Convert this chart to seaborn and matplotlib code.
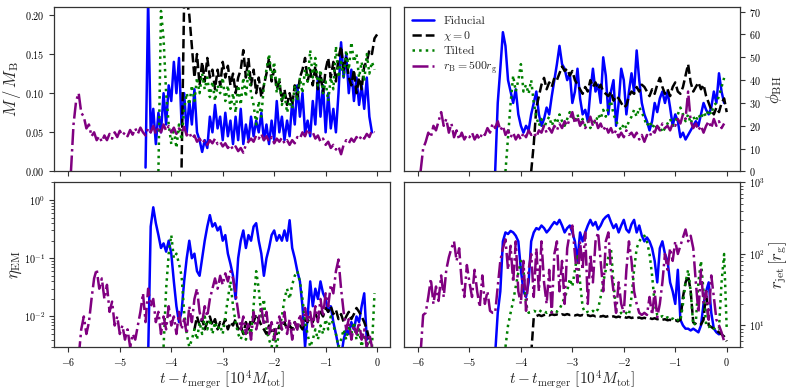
import numpy as np
import pandas as pd
import matplotlib
matplotlib.use("Agg")
import matplotlib.pyplot as plt
from matplotlib.ticker import MultipleLocator
import seaborn as sns

# ---------------- data (sampled every 0.05 in t - t_merger) ----------------
labels = ["Fiducial", r"$\chi=0$", "Tilted", r"$r_{\rm B}=500r_{\rm g}$"]
colors = ["blue", "black", "green", "purple"]
styles = ["-", "--", ":", "-."]

# Mdot / Mdot_B
mdot_fid_span = (-4.50, -0.10)
mdot_fid = [0.005,0.22,0.05,0.08,0.035,0.075,0.05,0.1,0.06,0.11,
            0.09,0.14,0.1,0.145,0.06,0.1,0.05,0.09,0.06,0.105,
            0.05,0.04,0.025,0.04,0.03,0.07,0.05,0.085,0.055,0.07,
            0.04,0.075,0.045,0.065,0.035,0.07,0.04,0.08,0.035,0.06,
            0.04,0.07,0.045,0.065,0.05,0.075,0.04,0.06,0.035,0.065,
            0.04,0.09,0.05,0.07,0.04,0.065,0.045,0.09,0.06,0.11,
            0.07,0.1,0.05,0.065,0.045,0.09,0.06,0.12,0.07,0.11,
            0.05,0.1,0.055,0.08,0.05,0.1,0.165,0.12,0.15,0.1,
            0.13,0.09,0.12,0.085,0.11,0.08,0.12,0.07,0.05]
mdot_chi0_span = (-3.80, 0.00)
mdot_chi0 = [0.005,0.22,0.22,0.2,0.16,0.12,0.15,0.11,0.14,0.115,
             0.145,0.12,0.13,0.105,0.13,0.11,0.14,0.12,0.135,0.11,
             0.125,0.1,0.12,0.13,0.155,0.12,0.145,0.11,0.13,0.1,
             0.12,0.095,0.11,0.125,0.145,0.115,0.13,0.105,0.115,0.09,
             0.105,0.085,0.1,0.085,0.11,0.095,0.12,0.13,0.145,0.115,
             0.13,0.11,0.135,0.105,0.125,0.1,0.13,0.145,0.12,0.14,
             0.115,0.145,0.16,0.13,0.145,0.12,0.11,0.13,0.1,0.12,
             0.105,0.135,0.14,0.155,0.15,0.17,0.175]
mdot_tilt_span = (-4.25, -0.05)
mdot_tilt = [0.0,0.205,0.17,0.1,0.06,0.035,0.055,0.03,0.06,0.04,
             0.08,0.1,0.085,0.11,0.09,0.12,0.1,0.125,0.105,0.12,
             0.095,0.115,0.09,0.11,0.1,0.12,0.09,0.11,0.08,0.1,
             0.075,0.11,0.085,0.12,0.095,0.13,0.1,0.085,0.06,0.09,
             0.07,0.11,0.13,0.15,0.12,0.14,0.1,0.12,0.085,0.1,
             0.075,0.09,0.08,0.11,0.09,0.12,0.1,0.13,0.115,0.155,
             0.12,0.145,0.11,0.13,0.1,0.115,0.09,0.12,0.105,0.16,
             0.12,0.14,0.12,0.155,0.13,0.165,0.14,0.15,0.12,0.14,
             0.115,0.15,0.125,0.14,0.13]
mdot_rb_span = (-5.95, -0.05)
mdot_rb = [0.0,0.06,0.09,0.10,0.075,0.07,0.055,0.06,0.045,0.05,
           0.04,0.045,0.038,0.046,0.04,0.048,0.042,0.05,0.044,0.052,
           0.046,0.05,0.045,0.053,0.047,0.055,0.048,0.056,0.05,0.046,
           0.055,0.05,0.058,0.048,0.056,0.05,0.06,0.052,0.058,0.05,
           0.056,0.048,0.055,0.05,0.057,0.046,0.05,0.042,0.046,0.038,
           0.042,0.036,0.04,0.034,0.04,0.036,0.042,0.035,0.038,0.032,
           0.036,0.03,0.034,0.028,0.032,0.026,0.03,0.024,0.034,0.038,
           0.042,0.038,0.046,0.042,0.048,0.04,0.045,0.038,0.044,0.036,
           0.042,0.038,0.043,0.036,0.04,0.034,0.04,0.036,0.044,0.042,
           0.05,0.045,0.054,0.048,0.05,0.042,0.046,0.038,0.042,0.034,
           0.038,0.03,0.034,0.028,0.032,0.022,0.034,0.04,0.036,0.042,
           0.038,0.044,0.04,0.046,0.042,0.048,0.044,0.052,0.05]

# phi_BH
phi_fid_span = (-4.50, -0.05)
phi_fid = [0,30,45,61,55,40,35,30,36,25,
           20,17,20,18,25,30,35,25,20,23,
           28,25,33,40,47,55,47,45,40,43,
           30,35,45,32,25,27,22,35,45,35,
           38,30,50,42,25,35,40,20,30,45,
           40,25,35,43,35,53,40,30,25,22,
           18,22,30,26,32,35,30,35,28,20,
           25,22,15,17,14,16,18,20,22,20,
           25,30,27,25,28,35,30,43,35,30]
phi_chi0_span = (-3.80, 0.00)
phi_chi0 = [0,12,28,33,38,41,36,39,37,41,
            40,43,46,44,45,42,44,40,38,36,
            34,37,35,40,37,39,36,38,35,34,
            33,35,31,33,32,30,28,29,33,35,
            34,37,35,38,37,35,33,36,34,38,
            41,37,34,36,33,37,39,35,34,37,
            42,47,39,35,37,39,36,38,33,30,
            27,25,28,26,30,32,26]
phi_tilt_span = (-4.30, -0.05)
phi_tilt = [0,15,30,42,35,40,47,35,38,34,
            40,30,24,20,23,19,22,24,20,23,
            21,25,22,20,23,26,24,22,25,21,
            23,20,22,19,23,21,25,23,27,24,
            28,31,25,22,20,18,21,19,22,24,
            27,24,28,26,23,20,22,19,21,18,
            20,17,19,21,23,20,22,25,28,25,
            22,25,21,24,22,25,23,26,24,27,
            25,29,30,33,37,41]
phi_rb_span = (-5.95, -0.05)
phi_rb = [0,10,13,17,15,20,18,22,26,20,
          23,17,21,15,18,14,17,14,16,15,
          17,14,16,14,17,16,19,17,21,19,
          22,18,20,16,18,15,17,14,16,14,
          17,15,18,16,17,15,18,17,20,17,
          19,17,20,18,21,19,22,20,23,26,
          21,24,20,22,19,21,24,20,23,19,
          21,18,20,17,19,16,18,15,17,15,
          18,16,17,15,17,14,16,13,16,15,
          18,17,20,18,21,19,20,18,21,20,
          23,21,25,23,35,22,19,21,18,20,
          17,20,22,19,23,20,22,19,21]

# eta_EM
eta_fid_span = (-4.45, -0.20)
eta_fid = [0.002,0.35,0.75,0.4,0.25,0.15,0.18,0.13,0.2,0.12,
           0.04,0.015,0.008,0.012,0.04,0.1,0.2,0.1,0.12,0.06,
           0.05,0.1,0.2,0.35,0.55,0.35,0.4,0.3,0.35,0.2,
           0.25,0.12,0.08,0.05,0.02,0.1,0.2,0.3,0.15,0.25,
           0.2,0.35,0.4,0.2,0.12,0.05,0.1,0.15,0.25,0.3,
           0.2,0.25,0.2,0.3,0.2,0.45,0.15,0.1,0.06,0.04,
           0.015,0.003,0.01,0.04,0.015,0.03,0.02,0.04,0.025,0.02,
           0.012,0.015,0.008,0.005,0.003,0.002,0.004,0.006,0.005,0.008,
           0.006,0.01,0.008,0.015,0.025,0.004]
eta_chi0_span = (-3.55, -0.15)
eta_chi0 = [0.006,0.01,0.007,0.009,0.006,0.008,0.01,0.007,0.009,0.006,
            0.008,0.007,0.009,0.006,0.008,0.007,0.009,0.006,0.007,0.005,
            0.008,0.006,0.009,0.008,0.011,0.009,0.007,0.006,0.005,0.007,
            0.005,0.006,0.005,0.007,0.006,0.008,0.006,0.007,0.006,0.008,
            0.006,0.007,0.006,0.009,0.008,0.01,0.008,0.011,0.009,0.012,
            0.01,0.014,0.012,0.015,0.011,0.013,0.009,0.011,0.008,0.01,
            0.012,0.009,0.011,0.014,0.012,0.01,0.008,0.006,0.004]
eta_tilt_span = (-4.15, -0.05)
eta_tilt = [0.003,0.03,0.12,0.25,0.1,0.12,0.08,0.05,0.012,0.005,
            0.003,0.004,0.006,0.004,0.008,0.005,0.01,0.006,0.009,0.005,
            0.008,0.006,0.007,0.005,0.01,0.02,0.04,0.015,0.008,0.005,
            0.004,0.006,0.004,0.007,0.005,0.015,0.06,0.03,0.01,0.02,
            0.006,0.004,0.003,0.005,0.003,0.006,0.01,0.02,0.03,0.02,
            0.035,0.05,0.06,0.04,0.02,0.008,0.005,0.003,0.004,0.006,
            0.004,0.007,0.005,0.009,0.006,0.01,0.007,0.005,0.003,0.004,
            0.006,0.004,0.007,0.005,0.008,0.004,0.006,0.003,0.005,0.003,
            0.004,0.003,0.025]
eta_rb_span = (-5.80, -0.10)
eta_rb = [0.002,0.006,0.01,0.005,0.008,0.02,0.045,0.065,0.03,0.045,
          0.02,0.035,0.012,0.018,0.007,0.01,0.005,0.007,0.004,0.006,
          0.003,0.005,0.004,0.007,0.012,0.025,0.008,0.03,0.015,0.02,
          0.008,0.012,0.005,0.01,0.006,0.015,0.007,0.01,0.005,0.012,
          0.006,0.009,0.005,0.015,0.008,0.02,0.03,0.012,0.008,0.015,
          0.01,0.02,0.03,0.045,0.03,0.05,0.035,0.055,0.04,0.06,
          0.045,0.025,0.012,0.006,0.01,0.005,0.008,0.004,0.012,0.006,
          0.009,0.015,0.007,0.012,0.005,0.008,0.004,0.007,0.01,0.006,
          0.012,0.005,0.009,0.004,0.008,0.006,0.011,0.007,0.014,0.008,
          0.012,0.006,0.015,0.008,0.02,0.01,0.025,0.015,0.035,0.025,
          0.06,0.095,0.03,0.012,0.006,0.009,0.004,0.007,0.005,0.008,
          0.004,0.006,0.003,0.005,0.003]

# r_jet
rjet_fid_span = (-4.50, -0.15)
rjet_fid = [4,15,30,150,200,190,210,200,180,150,
            60,30,25,40,150,200,230,220,250,230,
            200,220,250,280,260,300,250,200,230,250,
            200,150,80,200,150,200,250,300,250,280,
            220,250,300,330,350,280,230,260,200,250,
            300,220,200,260,300,200,250,180,150,170,
            150,120,80,40,120,150,100,80,40,30,
            20,60,12,10,9,9,8.5,9,8.5,8,
            10,20,30,40,15,9,8,7.5]
rjet_chi0_span = (-3.80, 0.00)
rjet_chi0 = [4,13,13.5,14,13.5,14,14.2,13.8,14.3,14,
             14.2,13.8,14.3,14,14.4,14,14.2,13.8,14.1,13.7,
             14,13.6,13.9,13.5,13.8,13.4,13.7,13.3,13.6,13.2,
             13.5,13.1,13.4,13.0,13.3,12.9,13.2,12.8,13.1,12.7,
             13.0,12.6,12.9,12.5,12.8,12.4,12.7,12.3,12.6,12.2,
             12.4,12.0,12.2,11.8,12.0,11.6,11.8,11.4,12,25,
             40,50,30,11,10.5,10,10.3,12,30,10,
             9.5,9,8.5,8,7.5,7,6]
rjet_tilt_span = (-4.30, 0.00)
rjet_tilt = [5,10,15,22,35,55,80,60,20,15,
             15.5,16,15.5,16.5,15.5,16,15,16,15.5,16.5,
             15.5,17,20,25,30,45,35,60,100,40,
             18,15,15.5,15,16,15,17,25,40,60,
             90,120,40,16,14.5,15,14,15,14,25,
             60,120,150,170,180,150,100,50,20,14,
             13,13.5,12.5,13,12,12.5,11.5,12,11.5,20,
             40,60,30,10,11,40,80,30,10,9.5,
             10,9,9.5,9,40,100,9]
rjet_rb_span = (-5.95, -0.05)
rjet_rb = [4,14,15,25,45,20,35,22,50,25,
           60,90,120,150,80,120,40,25,70,40,
           25,60,30,18,50,20,30,16,15,15,
           35,80,120,160,60,130,40,150,30,20,
           80,16,60,100,25,120,30,150,40,20,
           60,15,100,150,30,80,20,120,200,250,
           100,40,150,60,200,20,100,40,150,200,
           80,30,150,200,60,30,15,40,20,15,
           60,150,80,30,20,15,14,15,14,25,
           14,30,13,20,40,100,60,120,80,150,
           100,130,170,220,150,180,120,40,15,60,
           20,30,12,50,25,12,10,8,6]

# ---------------- style ----------------
sns.set_style("ticks")
plt.rcParams.update({
    "font.family": "serif",
    "font.serif": ["cmr10", "DejaVu Serif"],
    "mathtext.fontset": "cm",
    "axes.formatter.use_mathtext": True,
    "axes.unicode_minus": True,
    "axes.edgecolor": "0.2",
    "xtick.color": "0.2",
    "ytick.color": "0.2",
    "xtick.labelcolor": "black",
    "ytick.labelcolor": "black",
    "xtick.direction": "out",
    "ytick.direction": "out",
    "font.size": 8,
})

fig, axes = plt.subplots(2, 2, figsize=(7.89, 3.92), dpi=100, sharex=True)
fig.subplots_adjust(left=0.0684, right=0.938, top=0.982, bottom=0.115,
                    wspace=0.039, hspace=0.067)

panels = [
    (axes[0, 0], [(mdot_fid_span, mdot_fid), (mdot_chi0_span, mdot_chi0),
                  (mdot_tilt_span, mdot_tilt), (mdot_rb_span, mdot_rb)]),
    (axes[0, 1], [(phi_fid_span, phi_fid), (phi_chi0_span, phi_chi0),
                  (phi_tilt_span, phi_tilt), (phi_rb_span, phi_rb)]),
    (axes[1, 0], [(eta_fid_span, eta_fid), (eta_chi0_span, eta_chi0),
                  (eta_tilt_span, eta_tilt), (eta_rb_span, eta_rb)]),
    (axes[1, 1], [(rjet_fid_span, rjet_fid), (rjet_chi0_span, rjet_chi0),
                  (rjet_tilt_span, rjet_tilt), (rjet_rb_span, rjet_rb)]),
]

for ax, series in panels:
    for (span, vals), lab, col, ls in zip(series, labels, colors, styles):
        t = np.linspace(span[0], span[1], len(vals))
        df = pd.DataFrame({"t": t, "v": vals})
        sns.lineplot(data=df, x="t", y="v", ax=ax, color=col, linestyle=ls,
                     lw=1.8, label=lab, estimator=None, sort=False, legend=False)
    ax.set_xlim(-6.28, 0.26)
    ax.xaxis.set_major_locator(MultipleLocator(1))
    ax.set_xlabel("")
    ax.set_ylabel("")
    ax.tick_params(labelsize=7.3, pad=3)

xlab = r"$t-t_{\rm merger}\ [10^4 M_{\rm tot}]$"

ax = axes[0, 0]
ax.set_ylim(0, 0.21)
ax.yaxis.set_major_locator(MultipleLocator(0.05))
ax.set_ylabel(r"$\dot{M}\,/\,\dot{M}_{\rm B}$", fontsize=12)
ax.yaxis.set_label_coords(-0.088, 0.5)

ax = axes[0, 1]
ax.set_ylim(0, 72)
ax.yaxis.set_major_locator(MultipleLocator(10))
ax.yaxis.tick_right()
ax.yaxis.set_label_position("right")
ax.set_ylabel(r"$\phi_{\rm BH}$", fontsize=12)
ax.yaxis.set_label_coords(1.072, 0.5)
ax.legend(loc="upper left", frameon=False, fontsize=8.5, handlelength=1.8,
          handletextpad=0.8, labelspacing=0.25, borderaxespad=0.35)

ax = axes[1, 0]
ax.set_yscale("log")
ax.set_ylim(3e-3, 2.0)
ax.set_ylabel(r"$\eta_{\rm EM}$", fontsize=12)
ax.yaxis.set_label_coords(-0.088, 0.5)
ax.set_xlabel(xlab, fontsize=11, labelpad=0)

ax = axes[1, 1]
ax.set_yscale("log")
ax.set_ylim(5, 1000)
ax.yaxis.tick_right()
ax.yaxis.set_label_position("right")
ax.set_ylabel(r"$r_{\rm jet}\,[r_{\rm g}]$", fontsize=12)
ax.yaxis.set_label_coords(1.08, 0.5)
ax.set_xlabel(xlab, fontsize=11, labelpad=0)

for ax in axes.flat:
    for s in ax.spines.values():
        s.set_visible(True)
        s.set_linewidth(0.9)

fig.savefig("out.png", dpi=100)
